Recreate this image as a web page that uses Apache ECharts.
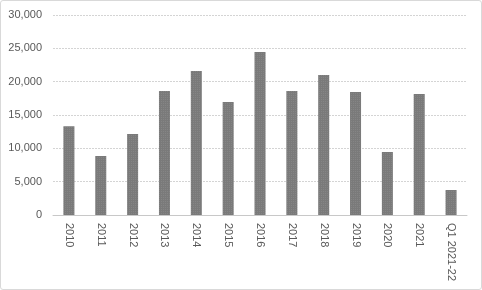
<!DOCTYPE html>
<html><head><meta charset="utf-8">
<script src="https://cdn.jsdelivr.net/npm/echarts@6/dist/echarts.min.js"></script>
<style>html,body{margin:0;padding:0;background:#fff}
#c{position:absolute;left:0;top:0;width:480px;height:288px;border:1px solid #d9d9d9;border-radius:3px}</style>
</head><body><div id="c"></div>
<script>
const categories = ['2010','2011','2012','2013','2014','2015','2016','2017','2018','2019','2020','2021','Q1 2021-22'];
const values = [13300,8850,12150,18600,21600,16950,24450,18600,21000,18450,9450,18150,3750];
const yTicks = {min:0,max:30000,interval:5000};
const chart = echarts.init(document.getElementById('c'));
chart.setOption({
  animation:false,
  grid:{left:52,top:14,right:14,bottom:74},
  xAxis:{type:'category',data:categories,
    axisLine:{lineStyle:{color:'#c8c8c8'}},axisTick:{show:false},
    axisLabel:{rotate:-90,color:'#595959',fontSize:11,fontFamily:'Liberation Sans',margin:8}},
  yAxis:{type:'value',min:yTicks.min,max:yTicks.max,interval:yTicks.interval,
    axisLine:{show:false},axisTick:{show:false},
    splitLine:{lineStyle:{color:'#d4d4d4',type:[2,1]}},
    axisLabel:{color:'#595959',fontSize:11,fontFamily:'Liberation Sans',margin:11,
      formatter:v=>v.toLocaleString('en-US')}},
  series:[{type:'bar',data:values,barWidth:11,
    itemStyle:{color:'#7a7a7a',decal:{symbol:'rect',symbolSize:1,dashArrayX:[1,1],dashArrayY:[1,1],color:'rgba(150,150,150,0.4)',rotation:0}}}]
});
</script></body></html>
